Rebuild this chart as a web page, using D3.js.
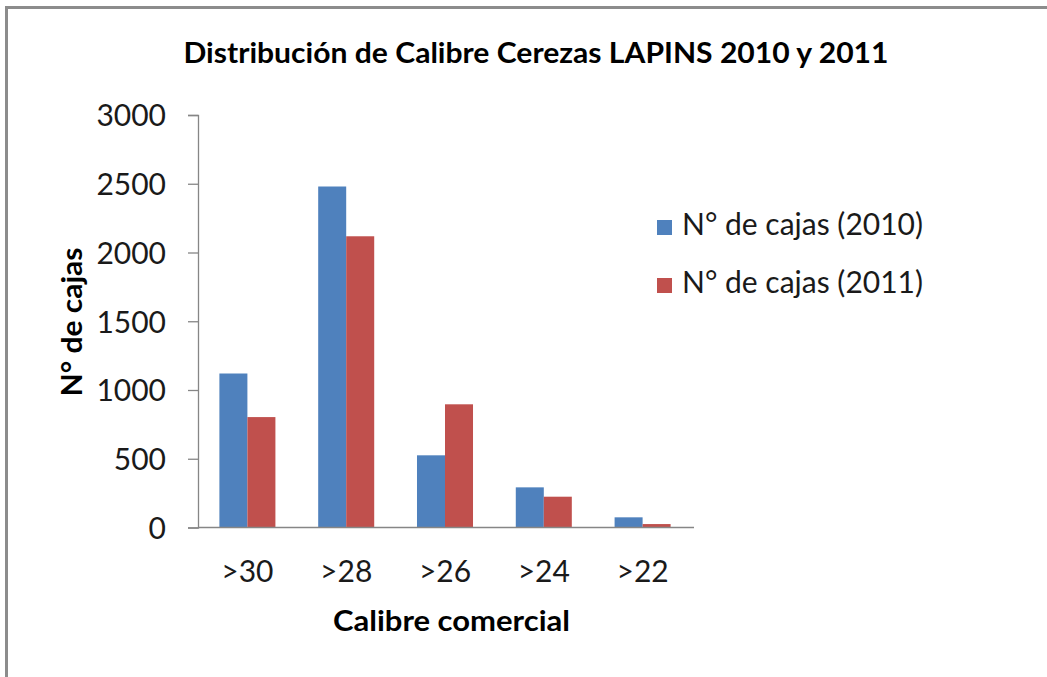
<!DOCTYPE html>
<html>
<head>
<meta charset="utf-8">
<script src="https://cdn.jsdelivr.net/npm/d3@7"></script>
<style>
    html, body { margin: 0; padding: 0; background: #fff; }
    svg { display: block; font-family: Lato, "Open Sans", sans-serif; }
</style>
</head>
<body>
<div id="chart"></div>
<script>
var categories = ['>30', '>28', '>26', '>24', '>22'];
var seriesNames = ['N° de cajas (2010)', 'N° de cajas (2011)'];
var values2010 = [1120, 2480, 525, 292, 74];
var values2011 = [803, 2118, 896, 224, 25];
var yTicks = [0, 500, 1000, 1500, 2000, 2500, 3000];
var colors = ['#4F81BD', '#C0504D'];

var width = 1047, height = 677;
var margin = { left: 198, right: 355, top: 115, bottom: 150 };
var fontFam = 'Lato, "Open Sans", sans-serif';

var svg = d3.select('#chart').append('svg')
    .attr('width', width)
    .attr('height', height);

// frame (only top and left edges are visible in the picture)
svg.append('rect').attr('x', 5).attr('y', 6).attr('width', width).attr('height', 3).attr('fill', '#8c8c8c');
svg.append('rect').attr('x', 5).attr('y', 6).attr('width', 3).attr('height', height).attr('fill', '#8c8c8c');

var x0 = d3.scaleBand()
    .domain(categories)
    .range([margin.left, width - margin.right])
    .paddingInner(0.433)
    .paddingOuter(0.2165);
var x1 = d3.scaleBand()
    .domain([0, 1])
    .range([0, x0.bandwidth()]);
var y = d3.scaleLinear()
    .domain([0, 3000])
    .range([height - margin.bottom + 0.5, margin.top]);

var rows = categories.map(function (c, i) {
    return { cat: c, vals: [values2010[i], values2011[i]] };
});

var groups = svg.selectAll('.grp')
    .data(rows)
    .enter().append('g')
    .attr('class', 'grp')
    .attr('transform', function (d) { return 'translate(' + x0(d.cat) + ',0)'; });
groups.selectAll('rect')
    .data(function (d) { return d.vals.map(function (v, i) { return { s: i, v: v }; }); })
    .enter().append('rect')
    .attr('x', function (d) { return x1(d.s); })
    .attr('width', x1.bandwidth())
    .attr('y', function (d) { return y(d.v); })
    .attr('height', function (d) { return y(0) - y(d.v); })
    .attr('fill', function (d) { return colors[d.s]; });

// y axis
var yAxis = svg.append('g')
    .attr('transform', 'translate(' + margin.left + ',0)')
    .call(d3.axisLeft(y).tickValues(yTicks).tickSize(10).tickPadding(22).tickFormat(d3.format('d')))
    .attr('font-family', fontFam);
yAxis.select('.domain').attr('stroke', '#868686').attr('stroke-width', 1.3);
yAxis.selectAll('.tick line').attr('stroke', '#868686').attr('stroke-width', 1.3);
yAxis.selectAll('.tick text')
    .attr('fill', '#1a1a1a')
    .style('font-size', '30px')
    .attr('dy', '0.36em');

// x axis
var xAxis = svg.append('g')
    .attr('transform', 'translate(0,' + y(0) + ')')
    .call(d3.axisBottom(x0).tickSize(0).tickPadding(0))
    .attr('font-family', fontFam);
xAxis.select('.domain').attr('stroke', '#868686').attr('stroke-width', 1.3)
    .attr('d', 'M' + margin.left + ',0H' + (width - margin.right + 2));
xAxis.selectAll('.tick text')
    .attr('fill', '#1a1a1a')
    .style('font-size', '30px')
    .attr('y', 54)
    .attr('dy', 0);

// title
svg.append('text')
    .attr('x', 536).attr('y', 63)
    .attr('text-anchor', 'middle')
    .attr('textLength', 705).attr('lengthAdjust', 'spacingAndGlyphs')
    .style('font-size', '29px').style('font-weight', 'bold')
    .attr('fill', '#000')
    .text('Distribución  de Calibre Cerezas LAPINS 2010 y 2011');

// axis titles
svg.append('text')
    .attr('x', 451.5).attr('y', 631)
    .attr('text-anchor', 'middle')
    .attr('textLength', 237).attr('lengthAdjust', 'spacingAndGlyphs')
    .style('font-size', '29px').style('font-weight', 'bold')
    .text('Calibre comercial');
svg.append('text')
    .attr('transform', 'translate(82,322) rotate(-90)')
    .attr('text-anchor', 'middle')
    .attr('textLength', 149).attr('lengthAdjust', 'spacingAndGlyphs')
    .style('font-size', '29px').style('font-weight', 'bold')
    .text('N° de cajas');

// legend
var legend = svg.selectAll('.leg')
    .data(seriesNames)
    .enter().append('g')
    .attr('class', 'leg')
    .attr('transform', function (d, i) { return 'translate(657,' + (220 + i * 58) + ')'; });
legend.append('rect')
    .attr('width', 15).attr('height', 15)
    .attr('fill', function (d, i) { return colors[i]; });
legend.append('text')
    .attr('x', 25).attr('y', 15)
    .attr('textLength', 241).attr('lengthAdjust', 'spacingAndGlyphs')
    .style('font-size', '30px')
    .attr('fill', '#1a1a1a')
    .text(function (d) { return d; });
</script>
</body>
</html>
